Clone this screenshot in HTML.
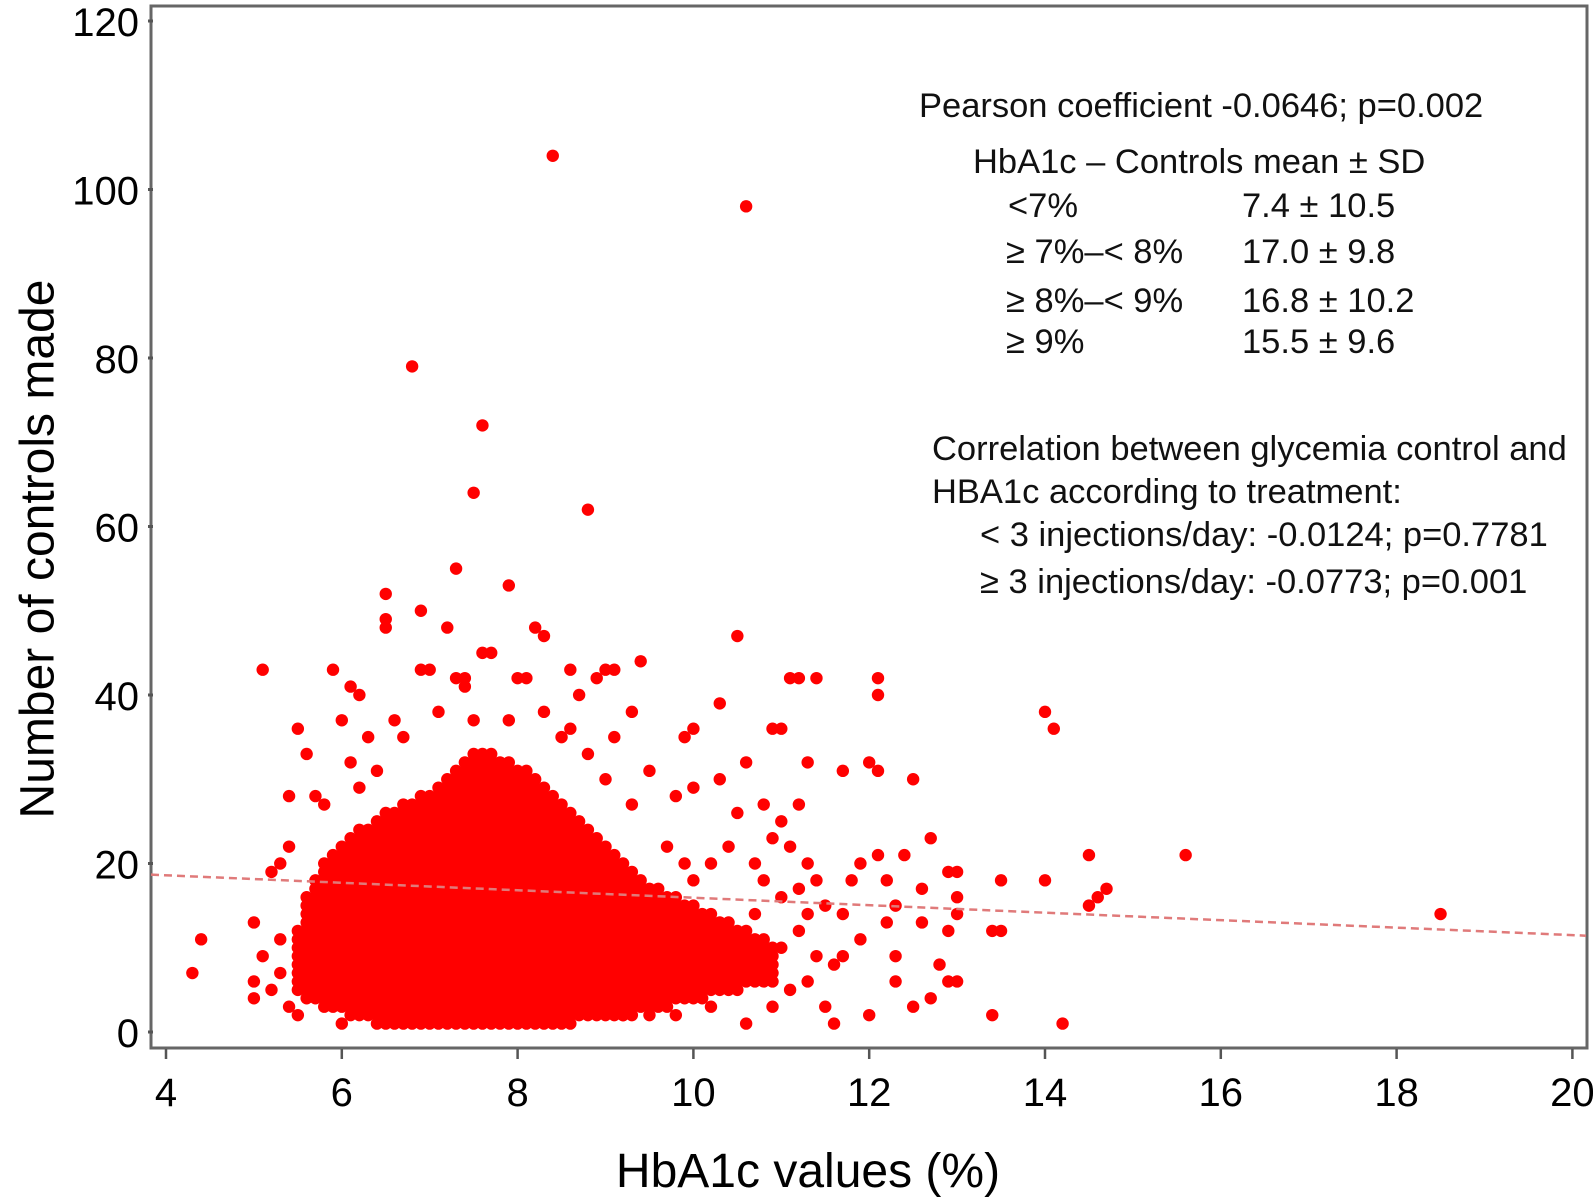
<!DOCTYPE html>
<html><head><meta charset="utf-8"><style>
body{margin:0;background:#fff;}
svg{display:block;font-family:"Liberation Sans",Arial,sans-serif;}
</style></head><body>
<svg id="chart" width="1593" height="1198" viewBox="0 0 1593 1198">
<rect x="151" y="6" width="1436" height="1042" fill="#fff" stroke="#666" stroke-width="3"/>
<g id="ticks"></g>
<g id="pts" fill="#f00"></g>
<g id="trend"></g>
<text x="41" y="549" font-size="48" text-anchor="middle" dominant-baseline="middle" transform="rotate(-90 41 549)">Number of controls made</text>
<text x="808" y="1187" font-size="48" text-anchor="middle">HbA1c values (%)</text>
<g font-size="34.5" fill="#111">
<text x="919" y="117">Pearson coefficient -0.0646; p=0.002</text>
<text x="973" y="173">HbA1c – Controls mean ± SD</text>
<text x="1008" y="217">&lt;7%</text>
<text x="1242" y="217">7.4 ± 10.5</text>
<text x="1006" y="263">≥ 7%–&lt; 8%</text>
<text x="1242" y="263">17.0 ± 9.8</text>
<text x="1006" y="312">≥ 8%–&lt; 9%</text>
<text x="1242" y="312">16.8 ± 10.2</text>
<text x="1006" y="353">≥ 9%</text>
<text x="1242" y="353">15.5 ± 9.6</text>
<text x="932" y="460">Correlation between glycemia control and</text>
<text x="932" y="503">HBA1c according to treatment:</text>
<text x="980" y="546">&lt; 3 injections/day: -0.0124; p=0.7781</text>
<text x="980" y="593">≥ 3 injections/day: -0.0773; p=0.001</text>
</g>
</svg>
<script>
const xTicks=[4,6,8,10,12,14,16,18,20];
const yTicks=[0,20,40,60,80,100,120];
const colX=[5.5,5.6,5.7,5.8,5.9,6.0,6.1,6.2,6.3,6.4,6.5,6.6,6.7,6.8,6.9,7.0,7.1,7.2,7.3,7.4,7.5,7.6,7.7,7.8,7.9,8.0,8.1,8.2,8.3,8.4,8.5,8.6,8.7,8.8,8.9,9.0,9.1,9.2,9.3,9.4,9.5,9.6,9.7,9.8,9.9,10.0,10.1,10.2,10.3,10.4,10.5,10.6,10.7,10.8,10.9];
const colLo=[5,4,4,3,3,3,2,2,2,1,1,1,1,1,1,1,1,1,1,1,1,1,1,1,1,1,1,1,1,1,1,1,2,2,2,2,2,2,2,3,3,3,3,4,4,4,4,5,5,5,5,6,6,6,6];
const colHi=[12,16,18,20,21,22,23,24,24,25,26,26,27,27,28,28,29,30,31,32,33,33,33,32,32,31,31,30,29,28,27,26,25,24,23,22,21,20,19,18,17,17,16,16,15,15,14,14,13,13,12,12,11,11,10];
const ptX=[8.4,10.6,6.8,7.6,7.5,8.8,7.3,7.9,6.5,6.5,6.5,6.9,7.2,8.2,8.3,10.5,9.4,9.1,9.0,5.1,5.9,6.1,6.2,6.0,5.5,5.6,5.4,4.4,4.3,5.0,5.0,5.0,5.2,5.3,5.4,5.1,5.2,5.3,5.4,10.3,10.0,9.9,10.6,10.9,11.0,11.1,11.2,11.4,11.3,11.2,11.0,11.1,11.3,11.5,11.7,12.0,12.1,12.1,12.1,12.5,12.7,12.4,12.1,11.9,12.6,12.9,13.0,13.0,12.9,12.8,12.9,13.0,12.7,12.5,12.0,11.6,11.5,11.3,11.4,11.2,11.1,11.0,11.6,11.9,12.2,12.3,12.3,12.6,10.6,9.8,9.5,10.2,10.4,13.4,13.4,13.5,13.5,14.0,14.2,14.0,14.1,14.5,14.5,14.6,14.7,15.6,18.5,13.0,12.3,11.8,11.7,6.0,6.9,7.0,7.3,7.4,7.6,7.7,7.4,8.0,8.1,8.6,8.7,8.9,8.3,8.5,7.9,7.5,7.1,6.6,6.3,6.1,5.7,5.8,6.7,6.4,9.3,9.5,9.8,10.0,10.3,10.5,10.8,10.9,10.7,10.4,10.2,10.0,9.7,9.3,9.0,8.8,9.1,8.6,5.9,5.6,5.7,5.5,5.3,6.2,10.8,11.0,11.2,11.4,10.9,10.6,10.1,10.7,11.3,11.7,12.2,9.2,9.6,9.9];
const ptY=[104,98,79,72,64,62,55,53,52,49,48,50,48,48,47,47,44,43,43,43,43,41,40,37,36,33,28,11,7,13,6,4,5,7,3,9,19,20,22,39,36,35,32,36,36,42,42,42,32,27,25,22,20,15,31,32,31,42,40,30,23,21,21,20,17,19,16,14,12,8,6,6,4,3,2,1,3,6,9,12,5,10,8,11,13,9,6,13,1,2,2,3,6,2,12,12,18,18,1,38,36,21,15,16,17,21,14,19,15,18,14,1,43,43,42,42,45,45,41,42,42,43,40,42,38,35,37,37,38,37,35,32,28,27,35,31,38,31,28,29,30,26,27,23,20,22,20,18,22,27,30,33,35,36,8,10,6,2,11,29,18,16,17,18,3,8,11,14,14,9,18,2,12,20];
const trendX=[4,20];
const trendY=[18.6,11.5];

const NS="http://www.w3.org/2000/svg";
function sx(v){return 166+(v-4)*87.9;}
function sy(v){return 1032-v*8.425;}
const ticks=document.getElementById('ticks');
const pts=document.getElementById('pts');
xTicks.forEach(function(t){
  const l=document.createElementNS(NS,'line');
  l.setAttribute('x1',sx(t));l.setAttribute('x2',sx(t));l.setAttribute('y1',1049);l.setAttribute('y2',1059);
  l.setAttribute('stroke','#555');l.setAttribute('stroke-width','2.5');
  
  
  ticks.appendChild(l);
  const tx=document.createElementNS(NS,'text');
  tx.setAttribute('x',sx(t));tx.setAttribute('y',1106);tx.setAttribute('font-size','40');tx.setAttribute('text-anchor','middle');
  tx.textContent=t;
  
  
  ticks.appendChild(tx);
});
yTicks.forEach(function(t){
  const l=document.createElementNS(NS,'line');
  l.setAttribute('x1',148);l.setAttribute('x2',153);l.setAttribute('y1',sy(t));l.setAttribute('y2',sy(t));
  l.setAttribute('stroke','#555');l.setAttribute('stroke-width','3');
  
  
  ticks.appendChild(l);
  const tx=document.createElementNS(NS,'text');
  tx.setAttribute('x',139);tx.setAttribute('y',sy(t)+15);tx.setAttribute('font-size','40');tx.setAttribute('text-anchor','end');
  tx.textContent=t;
  
  
  ticks.appendChild(tx);
});
function dot(x,y){
  const c=document.createElementNS(NS,'circle');
  c.setAttribute('cx',sx(x));c.setAttribute('cy',sy(y));c.setAttribute('r',6.2);
  
  
  pts.appendChild(c);
}
colX.forEach(function(x,i){
  for(let y=colLo[i];y<=colHi[i];y++){dot(x,y);}
});
ptX.forEach(function(x,i){dot(x,ptY[i]);});
function trendAt(px){return trendY[0]+(trendY[1]-trendY[0])*((px-sx(trendX[0]))/(sx(trendX[1])-sx(trendX[0])));}
const tl=document.createElementNS(NS,'line');
tl.setAttribute('x1',151);tl.setAttribute('y1',sy(trendAt(151)));
tl.setAttribute('x2',1586);tl.setAttribute('y2',sy(trendAt(1586)));
tl.setAttribute('stroke','#e07a7a');tl.setAttribute('stroke-width','2.5');tl.setAttribute('stroke-dasharray','8 5');


document.getElementById('trend').appendChild(tl);
</script>
</body></html>
